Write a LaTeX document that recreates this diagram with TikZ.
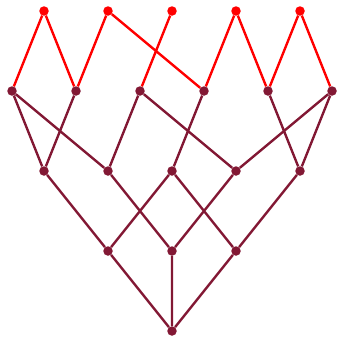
\documentclass[tikz,border=0pt]{standalone}
\usepackage{tikz}
\definecolor{topred}{RGB}{255,0,0}
\definecolor{wine}{RGB}{130,24,52}

\begin{document}
\begin{tikzpicture}[x=1pt, y=-1pt,
  vtx/.style={circle, fill=wine, inner sep=0pt, minimum size=9.5pt},
  topvtx/.style={circle, fill=topred, inner sep=0pt, minimum size=9.5pt},
  edge/.style={wine, line width=2.4pt},
  topedge/.style={topred, line width=2.4pt}]
  \useasboundingbox (0,0) rectangle (337,338);
  % top row
  \node[topvtx] (t1) at (44,11) {};
  \node[topvtx] (t2) at (108,11) {};
  \node[topvtx] (t3) at (172,11) {};
  \node[topvtx] (t4) at (236,11) {};
  \node[topvtx] (t5) at (300,11) {};
  % second row
  \node[vtx] (a1) at (12,91) {};
  \node[vtx] (a2) at (76,91) {};
  \node[vtx] (a3) at (140,91) {};
  \node[vtx] (a4) at (204,91) {};
  \node[vtx] (a5) at (268,91) {};
  \node[vtx] (a6) at (332,91) {};
  % third row
  \node[vtx] (b1) at (44,171) {};
  \node[vtx] (b2) at (108,171) {};
  \node[vtx] (b3) at (172,171) {};
  \node[vtx] (b4) at (236,171) {};
  \node[vtx] (b5) at (300,171) {};
  % fourth row and bottom
  \node[vtx] (c1) at (108,251) {};
  \node[vtx] (c2) at (172,251) {};
  \node[vtx] (c3) at (236,251) {};
  \node[vtx] (d) at (172,331) {};
  % edges
  \draw[topedge] (t1) -- (a1) (t1) -- (a2) (t2) -- (a2) (t2) -- (a4)
    (t3) -- (a3) (t4) -- (a4) (t4) -- (a5) (t5) -- (a5) (t5) -- (a6);
  \draw[edge] (a1) -- (b1) (a1) -- (b2) (a2) -- (b1) (a3) -- (b2)
    (a3) -- (b4) (a4) -- (b3) (a5) -- (b5) (a6) -- (b4) (a6) -- (b5);
  \draw[edge] (b1) -- (c1) (b2) -- (c2) (b3) -- (c1) (b3) -- (c3)
    (b4) -- (c2) (b5) -- (c3);
  \draw[edge] (c1) -- (d) (c2) -- (d) (c3) -- (d);
\end{tikzpicture}
\end{document}
